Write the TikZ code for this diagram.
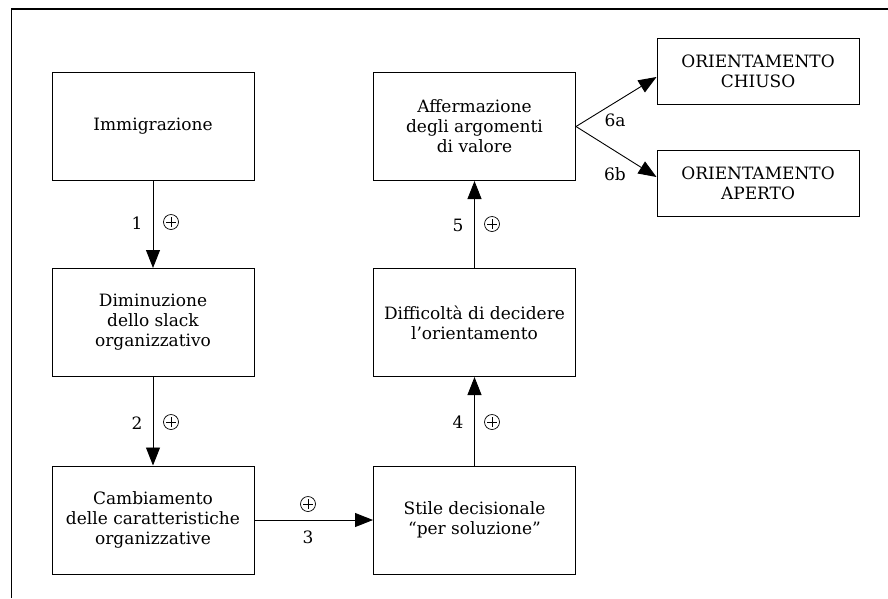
\documentclass[tikz,border=0pt]{standalone}
\usepackage{fontspec}
\setmainfont{DejaVu Serif}
\usetikzlibrary{arrows.meta,calc}
\begin{document}
\begin{tikzpicture}[x=1pt,y=-1pt,
  box/.style={draw,line width=1pt,minimum width=202pt,minimum height=108pt,align=center,inner sep=2pt,
    font=\fontsize{17}{20}\selectfont},
  sbox/.style={draw,line width=1pt,minimum width=202pt,minimum height=66pt,align=center,inner sep=2pt,
    font=\fontsize{17}{20}\selectfont},
  conn/.style={line width=0.9pt,-{Triangle[length=18pt,width=14pt]}},
  lab/.style={inner sep=0pt,font=\fontsize{17}{20}\selectfont},
  plus/.style={circle,draw,line width=0.7pt,minimum size=15pt,inner sep=0pt,
    path picture={\draw[line width=0.7pt] ([xshift=-5pt]path picture bounding box.center) -- ([xshift=5pt]path picture bounding box.center)
      ([yshift=-5pt]path picture bounding box.center) -- ([yshift=5pt]path picture bounding box.center);}}]
\useasboundingbox (0,0) rectangle (888,598);
\coordinate (fa) at (11.5,598);
\coordinate (fb) at (11.5,9);
\coordinate (fc) at (888,9);
\draw[line width=1.2pt] (fa) -- (fb) -- (fc);

\node[box] (imm) at (153,126.5) {Immigrazione};
\node[box] (dim) at (153,322.5) {Diminuzione\\dello slack\\organizzativo};
\node[box] (cam) at (153,520) {Cambiamento\\delle caratteristiche\\organizzative};
\node[box] (sti) at (474.5,520) {Stile decisionale\\“per soluzione”};
\node[box] (dif) at (474.5,322.5) {Difficoltà di decidere\\l'orientamento};
\node[box] (aff) at (474.5,126.5) {Affermazione\\degli argomenti\\di valore};
\node[sbox] (chi) at (758,71) {ORIENTAMENTO\\CHIUSO};
\node[sbox] (ape) at (758,183) {ORIENTAMENTO\\APERTO};

\draw[conn] (imm) -- (dim);
\draw[conn] (dim) -- (cam);
\draw[conn] (cam) -- (sti);
\draw[conn] (sti) -- (dif);
\draw[conn] (dif) -- (aff);
\draw[conn] (aff.east) -- ([yshift=-6pt]chi.west);
\draw[conn] (aff.east) -- ([yshift=6pt]ape.west);

\node[lab] (l1) at (137,223) {1};
\node[plus] (p1) at (171,222) {};
\node[lab] (l2) at (137,423) {2};
\node[plus] (p2) at (171,422) {};
\node[plus] (p3) at (308,504) {};
\node[lab] (l3) at (308,537) {3};
\node[lab] (l4) at (458,422) {4};
\node[plus] (p4) at (492,422) {};
\node[lab] (l5) at (458,225) {5};
\node[plus] (p5) at (492,224) {};
\node[lab] (l6a) at (615,120) {6a};
\node[lab] (l6b) at (615,174) {6b};
\end{tikzpicture}
\end{document}
